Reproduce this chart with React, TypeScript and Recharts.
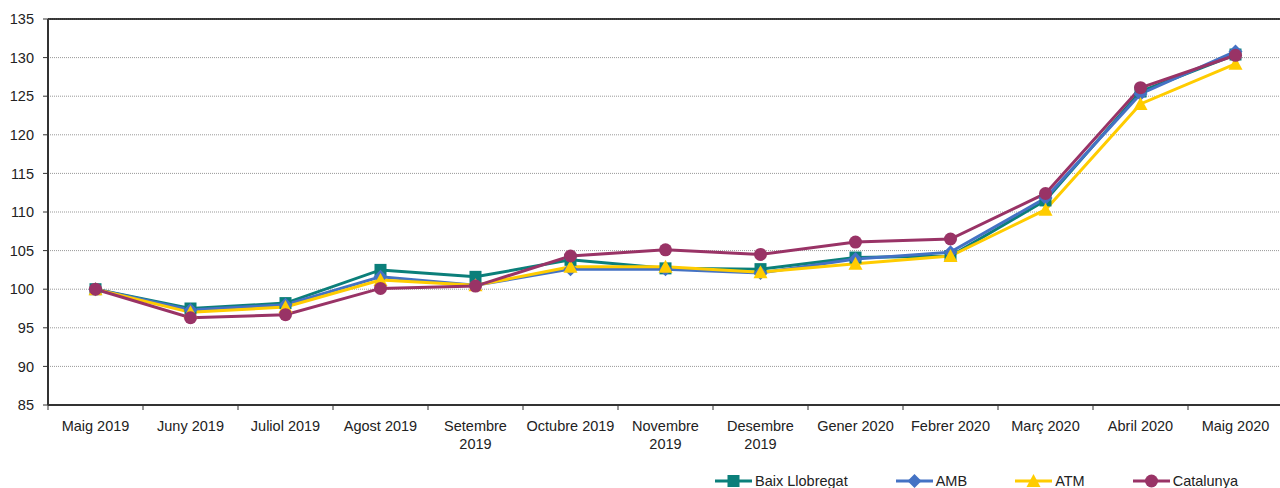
import React from "react"
import { CartesianGrid, Line, LineChart, ReferenceLine, XAxis, YAxis } from "recharts"

const months = [
  "Maig 2019",
  "Juny 2019",
  "Juliol 2019",
  "Agost 2019",
  "Setembre 2019",
  "Octubre 2019",
  "Novembre 2019",
  "Desembre 2019",
  "Gener 2020",
  "Febrer 2020",
  "Març 2020",
  "Abril 2020",
  "Maig 2020",
]

const baixLlobregat = [100, 97.5, 98.2, 102.5, 101.6, 103.8, 102.7, 102.6, 104.1, 104.3, 111.5, 125.6, 130.4]
const amb = [100, 97.3, 98.0, 101.6, 100.5, 102.6, 102.6, 102.1, 103.9, 104.8, 111.8, 125.3, 130.8]
const atm = [100, 97.0, 97.7, 101.2, 100.5, 102.9, 102.9, 102.2, 103.3, 104.3, 110.3, 124.0, 129.2]
const catalunya = [100, 96.3, 96.7, 100.1, 100.4, 104.3, 105.1, 104.5, 106.1, 106.5, 112.4, 126.1, 130.3]

const yTicks = [85, 90, 95, 100, 105, 110, 115, 120, 125, 130, 135]

const data = months.map((month, i) => ({
  month,
  baix: baixLlobregat[i],
  amb: amb[i],
  atm: atm[i],
  cat: catalunya[i],
}))

const FONT = "'Liberation Sans', Arial, sans-serif"
const TEXT = "#222"
const FS = 14.5

const TEAL = "#0B7F7A"
const BLUE = "#4472C4"
const YELLOW = "#FFCC00"
const PURPLE = "#993366"

const CHART_W = 1283
const CHART_H = 488
const Y_AXIS_W = 48
const BAND = (CHART_W - Y_AXIS_W) / months.length

const Square = (color: string) => (props: any) => {
  const { cx, cy, index } = props
  return <rect key={index} x={cx - 6} y={cy - 6} width={12} height={12} fill={color} />
}

const Diamond = (color: string) => (props: any) => {
  const { cx, cy, index } = props
  return <polygon key={index} points={`${cx},${cy - 7} ${cx + 7},${cy} ${cx},${cy + 7} ${cx - 7},${cy}`} fill={color} />
}

const Triangle = (color: string) => (props: any) => {
  const { cx, cy, index } = props
  return <polygon key={index} points={`${cx},${cy - 7} ${cx + 7},${cy + 6} ${cx - 7},${cy + 6}`} fill={color} />
}

const Dot = (color: string) => (props: any) => {
  const { cx, cy, index } = props
  return <circle key={index} cx={cx} cy={cy} r={6.5} fill={color} />
}

const MonthTick = (props: any) => {
  const { x, y, payload, index } = props
  const label: string = payload.value
  const lines = label.length > 12 ? label.split(" ") : [label]
  const isLast = index === months.length - 1
  return (
    <g>
      <line x1={x - BAND / 2} y1={y} x2={x - BAND / 2} y2={y + 5} stroke="#333" strokeWidth={1} />
      {isLast && <line x1={x + BAND / 2} y1={y} x2={x + BAND / 2} y2={y + 5} stroke="#333" strokeWidth={1} />}
      <text x={x} y={y + 26} textAnchor="middle" fill={TEXT} fontSize={FS} fontFamily={FONT}>
        {lines.map((l, i) => (
          <tspan key={i} x={x} dy={i === 0 ? 0 : 18}>
            {l}
          </tspan>
        ))}
      </text>
    </g>
  )
}

const legendItems = [
  { name: "Baix Llobregat", color: TEAL, shape: "square" },
  { name: "AMB", color: BLUE, shape: "diamond" },
  { name: "ATM", color: YELLOW, shape: "triangle" },
  { name: "Catalunya", color: PURPLE, shape: "circle" },
]

function LegendIcon({ color, shape }: { color: string; shape: string }) {
  return (
    <svg width={37} height={16} style={{ display: "block" }}>
      <line x1={0} y1={8} x2={37} y2={8} stroke={color} strokeWidth={3} />
      {shape === "square" && <rect x={12.5} y={2} width={12} height={12} fill={color} />}
      {shape === "diamond" && <polygon points="18.5,1 25.5,8 18.5,15 11.5,8" fill={color} />}
      {shape === "triangle" && <polygon points="18.5,1 25.5,14 11.5,14" fill={color} />}
      {shape === "circle" && <circle cx={18.5} cy={8} r={6.5} fill={color} />}
    </svg>
  )
}

export default function App() {
  return (
    <div
      style={{
        position: "absolute",
        left: 0,
        top: 0,
        width: 1280,
        height: 488,
        overflow: "hidden",
        background: "#fff",
      }}
    >
      <LineChart width={CHART_W} height={CHART_H} data={data} margin={{ top: 19, right: 0, left: 0, bottom: 0 }}>
        <CartesianGrid vertical={false} stroke="#999" strokeDasharray="1 1" />
        <XAxis
          dataKey="month"
          interval={0}
          height={83}
          padding={{ left: BAND / 2, right: BAND / 2 }}
          tickLine={false}
          tickSize={0}
          tickMargin={0}
          axisLine={{ stroke: "#333", strokeWidth: 2 }}
          tick={<MonthTick />}
        />
        <YAxis
          width={Y_AXIS_W}
          domain={[85, 135]}
          ticks={yTicks}
          interval={0}
          allowDataOverflow
          tickSize={5}
          tickMargin={9}
          tickLine={{ stroke: "#333" }}
          axisLine={{ stroke: "#333", strokeWidth: 2 }}
          tick={{ fill: TEXT, fontSize: FS, fontFamily: FONT }}
        />
        <ReferenceLine y={135} stroke="#000" strokeWidth={1.5} />
        <Line dataKey="baix" stroke={TEAL} strokeWidth={3} dot={Square(TEAL)} isAnimationActive={false} />
        <Line dataKey="amb" stroke={BLUE} strokeWidth={3} dot={Diamond(BLUE)} isAnimationActive={false} />
        <Line dataKey="atm" stroke={YELLOW} strokeWidth={3} dot={Triangle(YELLOW)} isAnimationActive={false} />
        <Line dataKey="cat" stroke={PURPLE} strokeWidth={3} dot={Dot(PURPLE)} isAnimationActive={false} />
      </LineChart>
      <div
        style={{
          position: "absolute",
          left: 715,
          top: 473,
          display: "flex",
          alignItems: "center",
          gap: 48,
          fontFamily: FONT,
          fontSize: FS,
          color: TEXT,
          lineHeight: "16px",
          whiteSpace: "nowrap",
        }}
      >
        {legendItems.map((item) => (
          <div key={item.name} style={{ display: "flex", alignItems: "center", gap: 3 }}>
            <LegendIcon color={item.color} shape={item.shape} />
            <span>{item.name}</span>
          </div>
        ))}
      </div>
    </div>
  )
}
